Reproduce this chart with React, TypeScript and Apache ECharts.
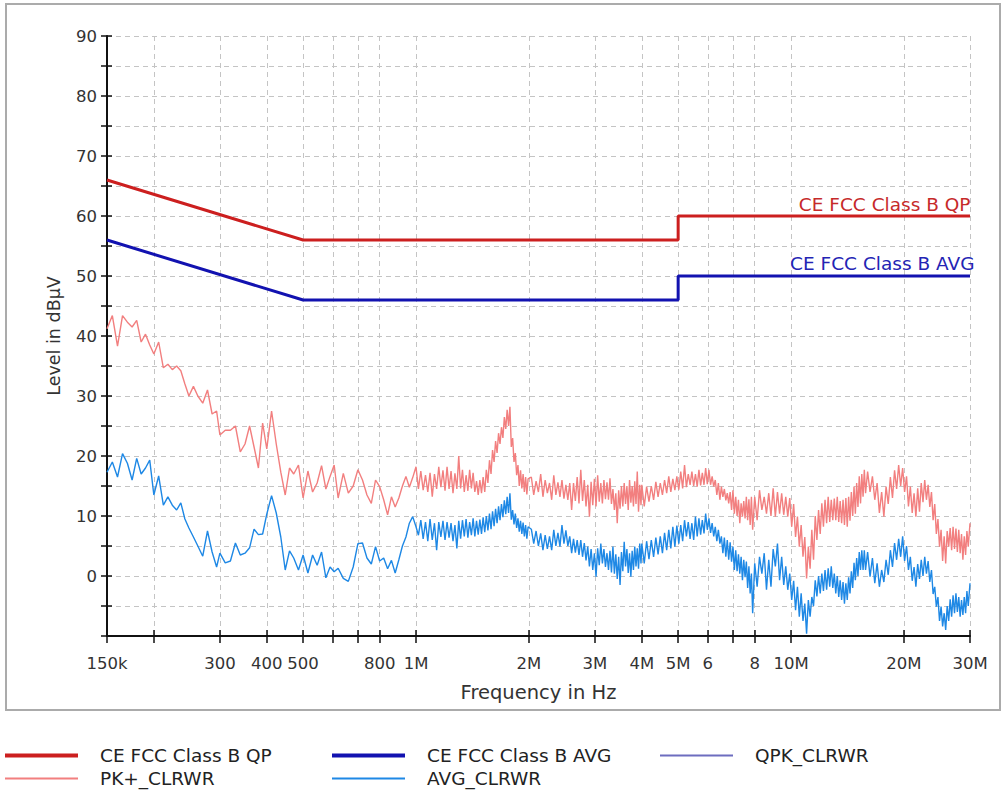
import React, { useEffect, useRef } from "react";
import * as echarts from "echarts";

// ---------- data ----------
// measured sweep frequencies (MHz)
const freqMHz = [
  0.150, 0.155, 0.160, 0.165, 0.170, 0.175, 0.180, 0.185, 0.190, 0.195, 0.200,
  0.206, 0.212, 0.218, 0.224, 0.230, 0.236, 0.242, 0.248, 0.255, 0.262, 0.270, 0.278, 0.286, 0.294, 0.300,
  0.310, 0.320, 0.330, 0.340, 0.350, 0.360, 0.370, 0.380, 0.390, 0.400,
  0.412, 0.424, 0.436, 0.448, 0.460, 0.472, 0.486, 0.500,
  0.515, 0.530, 0.545, 0.560, 0.575, 0.590, 0.605,
  0.620, 0.640, 0.660, 0.680, 0.700, 0.720, 0.740, 0.760, 0.780, 0.800, 0.820, 0.840, 0.860, 0.880, 0.900, 0.920, 0.940, 0.960, 0.980, 1.000,
  1.015, 1.030, 1.045, 1.060, 1.075, 1.090, 1.105, 1.120, 1.135, 1.150, 1.165, 1.180, 1.195, 1.210, 1.225, 1.240, 1.255, 1.270, 1.285, 1.300, 1.315, 1.330, 1.345,
  1.360, 1.375, 1.390, 1.405, 1.420, 1.435, 1.450, 1.465, 1.480, 1.495, 1.510, 1.525, 1.540, 1.555, 1.570, 1.585, 1.600, 1.615, 1.630, 1.645, 1.660,
  1.675, 1.690, 1.705, 1.720, 1.735, 1.750, 1.765, 1.780, 1.795, 1.810, 1.825, 1.840, 1.855, 1.870, 1.885, 1.900, 1.915, 1.930, 1.945, 1.960, 1.975, 1.990,
  2.03, 2.06, 2.09, 2.12, 2.15, 2.18, 2.21, 2.24, 2.27, 2.30, 2.33, 2.36, 2.39, 2.42, 2.45, 2.48, 2.51, 2.54, 2.57, 2.60, 2.63, 2.66, 2.69, 2.72, 2.75, 2.78, 2.81, 2.84, 2.87, 2.90, 2.93, 2.96, 2.99,
  3.02, 3.05, 3.08, 3.11, 3.14, 3.17, 3.20, 3.23, 3.26, 3.29, 3.32, 3.35, 3.38, 3.41, 3.44, 3.47, 3.50, 3.53, 3.56, 3.59, 3.62, 3.65, 3.68, 3.71, 3.74, 3.77, 3.80, 3.83, 3.86, 3.89, 3.92, 3.95, 3.98,
  4.00, 4.06, 4.12, 4.18, 4.24, 4.30, 4.36, 4.42, 4.48, 4.54, 4.60, 4.66, 4.72, 4.78, 4.84, 4.90, 4.96, 5.02, 5.08, 5.14, 5.20, 5.26, 5.32, 5.38, 5.44, 5.50, 5.56, 5.62, 5.68, 5.74, 5.80, 5.86, 5.92,
  5.98, 6.04, 6.10, 6.16, 6.22, 6.28, 6.34, 6.40, 6.46, 6.52, 6.58, 6.64, 6.70, 6.76, 6.82, 6.88, 6.94, 7.00, 7.06, 7.12, 7.18, 7.24, 7.30, 7.36, 7.42, 7.48, 7.54, 7.60, 7.66, 7.72, 7.78, 7.84, 7.90,
  8.00, 8.12, 8.24, 8.36, 8.48, 8.60, 8.72, 8.84, 8.96, 9.08, 9.20, 9.32, 9.44, 9.56, 9.68, 9.80, 9.92, 10.04, 10.16, 10.28, 10.40, 10.52, 10.64, 10.76, 10.88, 11.00, 11.12, 11.24, 11.36, 11.48, 11.60, 11.72, 11.84,
  11.96, 12.08, 12.20, 12.32, 12.44, 12.56, 12.68, 12.80, 12.92, 13.04, 13.16, 13.28, 13.40, 13.52, 13.64, 13.76, 13.88, 14.00, 14.12, 14.24, 14.36, 14.48, 14.60, 14.72, 14.84, 14.96, 15.08, 15.20, 15.32, 15.44, 15.56, 15.68, 15.80,
  16.00, 16.24, 16.48, 16.72, 16.96, 17.20, 17.44, 17.68, 17.92, 18.16, 18.40, 18.64, 18.88, 19.12, 19.36, 19.60, 19.84, 20.08, 20.32, 20.56, 20.80, 21.04, 21.28, 21.52, 21.76, 22.00, 22.24, 22.48, 22.72, 22.96,
  23.20, 23.44, 23.68, 23.92, 24.16, 24.40, 24.64, 24.88, 25.12, 25.36, 25.60, 25.84, 26.08, 26.32, 26.56, 26.80, 27.04, 27.28, 27.52, 27.76, 28.00, 28.24, 28.48, 28.72, 28.96, 29.20, 29.44, 29.68, 30.00,
];

// PK+_CLRWR levels (dBµV)
const pkLevels = [
  41.2, 43.4, 38.3, 43.4, 42.3, 41.5, 42.6, 39.0, 40.3, 38.5, 37.0,
  39.0, 34.7, 35.3, 34.4, 35.0, 34.2, 32.0, 30.0, 31.6, 30.0, 28.8, 31.0, 27.0, 27.5, 23.5,
  24.3, 24.3, 25.0, 20.7, 22.0, 25.0, 21.5, 18.0, 25.5, 21.2,
  27.5, 22.0, 17.3, 13.5, 18.0, 17.0, 18.5, 13.0,
  17.5, 14.0, 15.5, 18.4, 14.5, 16.6, 18.5,
  13.0, 17.1, 13.8, 15.0, 17.7, 16.0, 13.5, 12.1, 16.0, 14.9, 12.7, 10.2, 13.2, 11.5, 13.0, 15.0, 16.6, 14.8, 16.4, 18.2,
  14.5, 17.5, 14.3, 16.8, 14.0, 17.2, 13.2, 17.0, 14.5, 18.2, 14.8, 17.6, 14.2, 18.2, 14.5, 17.5, 13.8, 17.1, 14.5, 20.0, 14.6, 17.7, 14.0,
  16.8, 14.2, 17.7, 14.6, 17.2, 14.0, 15.8, 13.5, 16.0, 13.8, 16.5, 14.0, 17.7, 15.5, 19.3, 17.0, 21.0, 19.0, 22.5, 20.5, 23.8,
  22.0, 24.8, 23.0, 26.5, 24.5, 27.7, 25.0, 28.2, 21.5, 23.0, 19.0, 20.5, 16.8, 18.5, 15.0, 17.6, 14.6, 17.0, 14.0, 16.5, 13.6, 16.2,
  16.5, 13.5, 15.8, 14.0, 17.0, 13.2, 16.0, 13.8, 15.5, 12.7, 16.8, 13.5, 15.6, 13.2, 16.0, 12.9, 15.2, 12.7, 15.5, 11.0, 15.5, 12.5, 16.5, 12.1, 17.7, 12.5, 16.0, 11.6, 15.2, 9.9, 15.7, 11.8, 16.2,
  11.6, 16.8, 12.4, 15.5, 12.1, 16.0, 12.8, 15.6, 12.7, 16.3, 12.0, 14.5, 11.0, 13.8, 8.8, 14.3, 11.2, 15.0, 11.6, 15.5, 12.0, 15.0, 11.0, 16.0, 12.2, 15.0, 11.6, 15.8, 12.0, 17.4, 10.7, 15.2, 11.8,
  15.2, 11.6, 14.9, 12.4, 15.0, 12.7, 15.7, 13.2, 15.5, 13.5, 16.0, 13.8, 16.6, 14.0, 16.2, 14.3, 16.6, 14.4, 17.4, 14.6, 18.5, 14.8, 17.0, 15.2, 17.4, 15.0, 17.0, 14.9, 17.7, 15.1, 17.2, 15.2, 18.0,
  15.3, 17.7, 15.2, 16.6, 14.9, 16.0, 13.5, 15.5, 12.7, 14.9, 13.2, 14.5, 12.6, 13.8, 12.1, 14.0, 11.0, 14.3, 10.4, 13.2, 10.0, 12.7, 8.8, 12.1, 9.9, 12.5, 9.6, 13.2, 9.3, 12.8, 8.5, 13.2, 7.7,
  13.2, 9.3, 14.3, 11.0, 13.2, 10.4, 13.8, 10.0, 14.6, 9.9, 14.0, 10.4, 13.8, 10.2, 13.2, 9.9, 13.0, 8.2, 12.0, 6.5, 9.9, 4.9, 8.5, 3.2, 6.5, -0.4, 4.9, 1.2, 7.7, 2.7, 10.0, 6.0, 11.0,
  7.0, 12.1, 8.2, 12.7, 8.8, 13.2, 9.0, 12.7, 9.3, 12.9, 9.3, 13.2, 9.0, 12.5, 8.8, 12.7, 8.5, 13.0, 8.2, 13.2, 9.2, 14.0, 10.0, 14.9, 10.4, 15.5, 11.5, 16.6, 12.1, 17.0, 13.2, 17.7, 13.8,
  17.4, 14.0, 16.6, 12.7, 15.5, 10.5, 14.0, 9.9, 14.9, 12.0, 16.5, 13.0, 17.6, 14.5, 18.5, 15.0, 18.0, 14.0, 16.6, 11.6, 14.9, 10.5, 13.8, 9.9, 14.6, 10.7, 15.5, 12.3, 16.0, 12.7,
  15.2, 11.5, 14.0, 9.3, 12.0, 7.0, 9.5, 4.9, 7.7, 2.5, 6.6, 2.1, 7.5, 4.9, 8.0, 4.3, 8.2, 4.5, 7.9, 4.0, 7.7, 3.8, 7.0, 2.7, 6.6, 3.5, 7.5, 4.9, 8.8,
];

// AVG_CLRWR levels (dBµV)
const avgLevels = [
  17.3, 19.0, 16.5, 20.4, 18.8, 16.0, 19.6, 17.0, 18.0, 19.3, 13.5,
  16.7, 11.8, 13.2, 11.8, 11.0, 12.2, 9.5, 8.0, 6.5, 5.0, 3.3, 7.5, 4.0, 1.5, 3.8,
  2.2, 2.5, 5.5, 3.5, 3.8, 4.7, 7.8, 6.9, 7.0, 10.3,
  13.4, 10.5, 6.5, 1.0, 4.2, 3.0, 1.0, 3.5,
  0.5, 3.5, 1.8, 4.0, -0.3, 1.5, 0.7,
  1.3, -0.4, -0.9, 1.5, 5.4, 5.5, 3.0, 2.0, 4.9, 2.5, 3.0, 1.2, 2.6, 0.5, 2.7, 5.0, 6.5, 8.8, 9.9, 8.2,
  6.8, 9.3, 6.2, 9.0, 5.8, 9.5, 6.0, 8.8, 4.3, 9.0, 6.5, 9.2, 6.0, 9.0, 6.4, 8.8, 5.8, 8.5, 4.6, 9.2, 6.2, 9.3, 6.6,
  9.5, 6.4, 9.0, 6.8, 9.6, 6.6, 9.2, 6.9, 9.4, 7.0, 9.8, 7.3, 10.0, 7.6, 10.4, 7.8, 10.8, 8.3, 11.2, 8.8, 11.6,
  9.3, 12.0, 9.8, 12.6, 10.3, 13.2, 10.5, 13.8, 9.4, 11.0, 8.6, 10.4, 8.0, 9.6, 7.4, 9.2, 7.0, 8.9, 6.6, 8.5, 6.2, 8.2,
  7.8, 5.4, 7.5, 5.0, 7.1, 4.3, 6.8, 4.5, 6.6, 4.3, 7.7, 5.0, 7.2, 4.9, 8.5, 5.4, 7.6, 5.0, 6.6, 3.8, 6.2, 3.9, 6.0, 3.5, 6.0, 3.2, 5.5, 2.6, 4.9, 1.6, 4.5, 1.0, 3.8,
  -0.1, 4.6, 1.8, 5.4, 2.1, 4.5, 1.5, 3.8, 1.0, 4.2, 0.6, 4.9, 0.4, 3.6, -0.5, 3.2, -1.5, 4.0, 0.8, 5.7, 1.6, 4.5, 0.5, 3.8, -0.1, 4.2, 1.0, 4.9, 1.6, 4.6, 1.2, 5.4, 2.1,
  5.4, 2.1, 5.8, 2.8, 6.0, 3.2, 6.4, 3.6, 6.6, 3.8, 7.2, 4.3, 7.7, 4.6, 8.2, 4.9, 8.4, 5.4, 8.5, 5.8, 9.3, 6.6, 9.0, 6.2, 8.8, 6.0, 9.9, 6.6, 9.6, 6.9, 9.3, 7.1, 10.4,
  7.7, 9.6, 7.2, 8.8, 6.6, 8.2, 5.8, 7.7, 5.4, 6.6, 3.8, 6.4, 3.2, 6.0, 2.7, 5.6, 2.4, 4.9, 1.0, 4.3, 0.8, 3.6, 0.4, 3.2, -0.7, 2.7, -0.2, 2.4, -2.0, 1.6, -2.9, 0.4, -6.2,
  2.1, -1.8, 3.2, 0.4, 3.8, -2.3, 2.7, -1.8, 4.5, 1.6, 5.4, -0.7, 3.2, -1.5, 1.6, -2.3, 0.4, -4.0, -0.8, -5.7, -1.8, -6.8, -2.9, -7.5, -4.6, -9.6, -4.0, -6.8, -3.5, -5.0, -0.7, -3.4, 0.0,
  -2.9, 0.4, -2.5, 1.0, -2.3, 1.3, -1.8, 1.6, -2.0, 0.4, -2.9, 0.0, -3.5, -0.7, -4.0, -1.0, -4.6, -1.2, -4.0, -0.2, -2.9, 0.8, -2.0, 2.2, -0.7, 3.0, 0.0, 4.0, 1.0, 4.3, 1.0, 4.3, 1.0,
  4.0, -0.1, 3.0, -1.2, 2.1, -1.8, 1.0, -1.0, 2.7, 0.2, 4.3, 1.5, 5.5, 2.7, 6.2, 3.2, 6.6, 2.5, 5.0, 1.0, 3.2, -0.8, 1.5, -1.8, 2.0, -0.5, 2.7, 0.0, 3.2, 0.4,
  2.5, -1.0, 1.0, -3.0, -1.8, -5.1, -3.5, -7.5, -5.1, -8.4, -6.2, -9.0, -5.0, -7.5, -3.9, -6.8, -3.2, -6.2, -2.9, -6.0, -3.5, -6.8, -4.0, -6.5, -3.5, -6.2, -2.5, -5.0, -1.2,
];

// limit lines
const limitFreqMHz = [0.15, 0.5, 5, 5, 30];
const qpLimit = [66, 56, 56, 60, 60];
const avgLimit = [56, 46, 46, 50, 50];

// axes
const tickFreqMHz = [0.15, 0.2, 0.3, 0.4, 0.5, 0.6, 0.7, 0.8, 1, 2, 3, 4, 5, 6, 7, 8, 10, 20, 30];
const labelFreqMHz = [0.15, 0.3, 0.4, 0.5, 0.8, 1, 2, 3, 4, 5, 6, 8, 10, 20, 30];
const labelTexts = ["150k", "300", "400", "500", "800", "1M", "2M", "3M", "4M", "5M", "6", "8", "10M", "20M", "30M"];
const yMin = -10;
const yMax = 90;
const yStep = 5;

const FONT = "DejaVu Sans";
const lg = (mhz: number) => Math.log10(mhz * 1e6);
const xMin = lg(0.15);
const xMax = lg(30);

const zip = (fs: number[], vs: number[]) => fs.map((f, i) => [lg(f), vs[i]]);

export default function App() {
  const ref = useRef<HTMLDivElement>(null);

  useEffect(() => {
    if (!ref.current) return;
    const chart = echarts.init(ref.current, undefined, { renderer: "svg" });

    const tickVals = tickFreqMHz.map(lg);
    const labelVals = labelFreqMHz.map(lg);
    const last = limitFreqMHz.length - 1;

    const legendBase: any = {
      orient: "horizontal",
      padding: 0,
      itemGap: 0,
      icon: "rect",
      itemWidth: 73,
      selectedMode: false,
      textStyle: { fontSize: 18.5, fontFamily: FONT, color: "#222", padding: [0, 0, 0, 17] },
    };

    const option: any = {
      animation: false,
      backgroundColor: "#ffffff",
      textStyle: { fontFamily: FONT },
      grid: { left: 107, right: 34, top: 36, bottom: 160, outerBoundsMode: "none", containLabel: false },
      xAxis: [
        {
          type: "value",
          min: xMin,
          max: xMax,
          position: "bottom",
          name: "Frequency in Hz",
          nameLocation: "middle",
          nameGap: 46,
          nameMoveOverlap: false,
          nameTextStyle: { fontSize: 19.5, color: "#333", fontFamily: FONT },
          axisLine: { show: true, onZero: false, lineStyle: { color: "#111", width: 2 } },
          axisTick: { show: true, length: 7, customValues: tickVals, lineStyle: { color: "#111", width: 1.5 } },
          axisLabel: {
            show: true,
            customValues: labelVals,
            margin: 19,
            fontSize: 16.5,
            color: "#333",
            fontFamily: FONT,
            hideOverlap: false,
            formatter: (v: number) => {
              const i = labelVals.findIndex((l) => Math.abs(l - v) < 1e-6);
              return i >= 0 ? labelTexts[i] : "";
            },
          },
          splitLine: { show: true, lineStyle: { color: "#c4c4c4", type: [5, 4], width: 1 } },
        },
        {
          type: "value",
          min: xMin,
          max: xMax,
          position: "bottom",
          axisLine: { show: false, onZero: false },
          axisLabel: { show: false },
          splitLine: { show: false },
          axisTick: { show: true, inside: true, length: 6, customValues: tickVals, lineStyle: { color: "#111", width: 1.5 } },
        },
      ],
      yAxis: [
        {
          type: "value",
          min: yMin,
          max: yMax,
          interval: yStep,
          position: "left",
          name: "Level in dBµV",
          nameLocation: "middle",
          nameGap: 44,
          nameMoveOverlap: false,
          nameTextStyle: { fontSize: 17.5, color: "#333", fontFamily: FONT },
          axisLine: { show: true, onZero: false, lineStyle: { color: "#111", width: 2 } },
          axisTick: { show: true, length: 6, lineStyle: { color: "#111", width: 1.5 } },
          axisLabel: {
            margin: 10,
            fontSize: 16.5,
            color: "#333",
            fontFamily: FONT,
            showMinLabel: true,
            showMaxLabel: true,
            formatter: (v: number) => (v >= 0 && v % 10 === 0 ? String(v) : ""),
          },
          splitLine: { show: true, lineStyle: { color: "#c4c4c4", type: [5, 4], width: 1 } },
        },
        {
          type: "value",
          min: yMin,
          max: yMax,
          interval: yStep,
          position: "left",
          axisLine: { show: false, onZero: false },
          axisLabel: { show: false },
          splitLine: { show: false },
          axisTick: { show: true, inside: true, length: 5, lineStyle: { color: "#111", width: 1.5 } },
        },
      ],
      legend: [
        { ...legendBase, data: ["CE FCC Class B QP"], left: 5, top: 746, itemHeight: 4 },
        { ...legendBase, data: ["CE FCC Class B AVG"], left: 332, top: 746, itemHeight: 4 },
        { ...legendBase, data: ["QPK_CLRWR"], left: 660, top: 746, itemHeight: 2 },
        { ...legendBase, data: ["PK+_CLRWR"], left: 5, top: 769, itemHeight: 2 },
        { ...legendBase, data: ["AVG_CLRWR"], left: 332, top: 769, itemHeight: 2 },
      ],
      graphic: [
        {
          type: "rect",
          silent: true,
          z: -10,
          shape: { x: 6, y: 4, width: 994, height: 706 },
          style: { fill: "none", stroke: "#ababab", lineWidth: 2 },
        },
      ],
      series: [
        {
          name: "PK+_CLRWR",
          type: "line",
          showSymbol: false,
          symbol: "none",
          color: "#f27f7f",
          lineStyle: { width: 1.4, color: "#f27f7f" },
          data: zip(freqMHz, pkLevels),
          z: 2,
        },
        {
          name: "AVG_CLRWR",
          type: "line",
          showSymbol: false,
          symbol: "none",
          color: "#1e88e5",
          lineStyle: { width: 1.4, color: "#1e88e5" },
          data: zip(freqMHz, avgLevels),
          z: 3,
        },
        {
          name: "QPK_CLRWR",
          type: "line",
          symbol: "none",
          color: "#6d6dbf",
          lineStyle: { width: 1.5, color: "#6d6dbf" },
          data: [],
        },
        {
          name: "CE FCC Class B QP",
          type: "line",
          symbol: "none",
          color: "#cc1f1f",
          lineStyle: { width: 3, color: "#cc1f1f" },
          data: zip(limitFreqMHz, qpLimit),
          z: 5,
          markPoint: {
            symbol: "circle",
            symbolSize: 1,
            silent: true,
            itemStyle: { color: "rgba(0,0,0,0)" },
            label: {
              show: true,
              position: "left",
              distance: 0,
              offset: [1, -12],
              formatter: "CE FCC Class B QP",
              color: "#c62a2a",
              fontSize: 18.5,
              fontFamily: FONT,
            },
            data: [{ coord: [lg(limitFreqMHz[last]), qpLimit[last]] }],
          },
        },
        {
          name: "CE FCC Class B AVG",
          type: "line",
          symbol: "none",
          color: "#1212b0",
          lineStyle: { width: 3, color: "#1212b0" },
          data: zip(limitFreqMHz, avgLimit),
          z: 5,
          markPoint: {
            symbol: "circle",
            symbolSize: 1,
            silent: true,
            itemStyle: { color: "rgba(0,0,0,0)" },
            label: {
              show: true,
              position: "left",
              distance: 0,
              offset: [5, -13],
              formatter: "CE FCC Class B AVG",
              color: "#2424b4",
              fontSize: 18.5,
              fontFamily: FONT,
            },
            data: [{ coord: [lg(limitFreqMHz[last]), avgLimit[last]] }],
          },
        },
      ],
    };

    chart.setOption(option);
    return () => chart.dispose();
  }, []);

  return (
    <div
      ref={ref}
      style={{ position: "absolute", left: 0, top: 0, width: 1004, height: 796, background: "#ffffff" }}
    />
  );
}
